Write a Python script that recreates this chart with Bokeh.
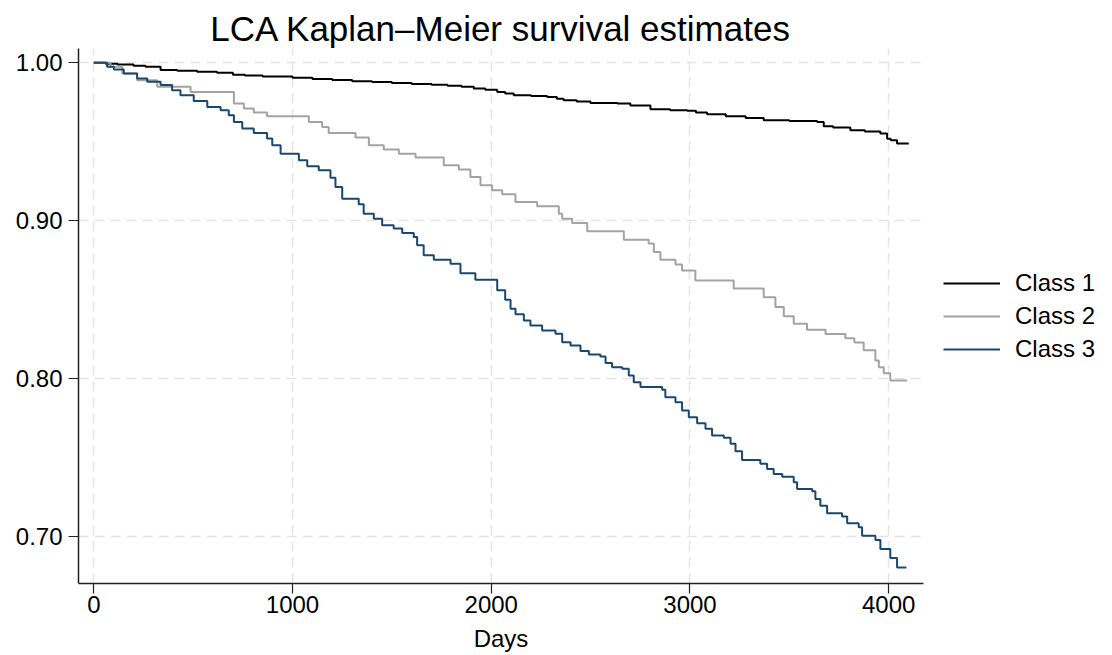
from bokeh.plotting import figure
from bokeh.models import FixedTicker, PrintfTickFormatter, Legend, LegendItem, Range1d
from bokeh.embed import file_html
from bokeh.resources import INLINE

# ---- data ----
class1_days = [0, 60, 120, 200, 260, 336, 420, 520, 620, 700, 760, 850, 1000, 1100, 1200,
               1300, 1400, 1500, 1600, 1700, 1780, 1850, 1912, 1970, 2030, 2070, 2113, 2200,
               2281, 2330, 2364, 2430, 2499, 2634, 2700, 2801, 2900, 2986, 3030, 3086, 3180,
               3280, 3371, 3500, 3640, 3673, 3720, 3807, 3880, 3958, 3992, 4010, 4042, 4101]
class1_surv = [1.000, 0.9994, 0.9990, 0.9982, 0.9975, 0.9955, 0.9950, 0.9944, 0.9938, 0.9925,
               0.9920, 0.9914, 0.9906, 0.9898, 0.9892, 0.9884, 0.9878, 0.9872, 0.9866, 0.9862,
               0.9855, 0.9848, 0.9838, 0.9830, 0.9816, 0.9806, 0.9795, 0.9790, 0.9784, 0.9772,
               0.9763, 0.9755, 0.9746, 0.9742, 0.9730, 0.9706, 0.9700, 0.9696, 0.9685, 0.9675,
               0.9662, 0.9650, 0.9637, 0.9632, 0.9626, 0.9599, 0.9590, 0.9573, 0.9565, 0.9552,
               0.9520, 0.9510, 0.9489, 0.9489]

class2_days = [0, 84, 143, 218, 319, 487, 705, 755, 805, 872, 1082, 1149, 1182, 1317, 1384,
               1459, 1535, 1619, 1761, 1837, 1895, 1946, 2004, 2055, 2122, 2231, 2340, 2357,
               2407, 2483, 2667, 2792, 2818, 2851, 2927, 2960, 3027, 3220, 3371, 3430, 3472,
               3522, 3589, 3682, 3782, 3827, 3874, 3933, 3950, 3975, 4008, 4093]
class2_surv = [1.000, 0.9975, 0.9933, 0.9890, 0.9848, 0.9816, 0.9742, 0.9711, 0.9685, 0.9662,
               0.9626, 0.9594, 0.9556, 0.9527, 0.9478, 0.9451, 0.9425, 0.9400, 0.9351, 0.9324,
               0.9277, 0.9224, 0.9193, 0.9167, 0.9119, 0.9091, 0.9045, 0.9013, 0.8985, 0.8933,
               0.8880, 0.8855, 0.8802, 0.8753, 0.8722, 0.8685, 0.8622, 0.8570, 0.8516, 0.8453,
               0.8395, 0.8347, 0.8309, 0.8282, 0.8256, 0.8228, 0.8180, 0.8115, 0.8072, 0.8034,
               0.7988, 0.7988]

class3_days = [0, 67, 101, 151, 218, 269, 336, 394, 436, 503, 571, 638, 679, 705, 747, 805,
               872, 898, 940, 1032, 1074, 1132, 1191, 1216, 1250, 1333, 1358, 1409, 1451, 1509,
               1552, 1610, 1627, 1660, 1711, 1795, 1845, 1920, 2030, 2070, 2097, 2122, 2164,
               2197, 2256, 2323, 2357, 2399, 2449, 2491, 2549, 2575, 2608, 2659, 2692, 2717,
               2751, 2860, 2876, 2927, 2960, 2994, 3036, 3078, 3111, 3170, 3204, 3229, 3262,
               3354, 3388, 3421, 3464, 3522, 3539, 3615, 3631, 3656, 3690, 3765, 3791, 3849,
               3866, 3933, 3958, 4008, 4042, 4089]
class3_surv = [1.000, 0.9975, 0.9958, 0.9933, 0.9901, 0.9880, 0.9859, 0.9827, 0.9795, 0.9759,
               0.9721, 0.9700, 0.9668, 0.9626, 0.9584, 0.9556, 0.9521, 0.9478, 0.9425, 0.9383,
               0.9345, 0.9320, 0.9273, 0.9214, 0.9140, 0.9104, 0.9045, 0.9013, 0.8971, 0.8950,
               0.8922, 0.8897, 0.8844, 0.8781, 0.8753, 0.8728, 0.8668, 0.8626, 0.8559, 0.8500,
               0.8443, 0.8407, 0.8368, 0.8337, 0.8305, 0.8284, 0.8230, 0.8210, 0.8174, 0.8153,
               0.8140, 0.8098, 0.8072, 0.8062, 0.8020, 0.7977, 0.7946, 0.7929, 0.7882, 0.7850,
               0.7798, 0.7755, 0.7717, 0.7682, 0.7639, 0.7625, 0.7587, 0.7540, 0.7485, 0.7460,
               0.7428, 0.7396, 0.7379, 0.7343, 0.7301, 0.7286, 0.7238, 0.7195, 0.7147, 0.7126,
               0.7083, 0.7058, 0.7005, 0.6978, 0.6921, 0.6864, 0.6804, 0.6804]

class_labels = ["Class 1", "Class 2", "Class 3"]
x_ticks = [0, 1000, 2000, 3000, 4000]
y_ticks = [0.70, 0.80, 0.90, 1.00]

FONT = "Liberation Sans"

p = figure(frame_width=845, frame_height=535, output_backend="svg", toolbar_location=None,
           x_range=Range1d(-77, 4175), y_range=Range1d(0.6702, 1.0091),
           min_border_left=78, min_border_right=0, min_border_top=48, min_border_bottom=72,
           background_fill_color="white", border_fill_color="white")

p.title.text = "LCA Kaplan\u2013Meier survival estimates"
p.title.align = "center"
p.title.text_font = FONT
p.title.text_font_size = "35px"
p.title.text_font_style = "normal"
p.title.text_color = "black"
p.title.standoff = 2
p.outline_line_color = None

r1 = p.step(class1_days, class1_surv, mode="after", line_color="#000000", line_width=2)
r2 = p.step(class2_days, class2_surv, mode="after", line_color="#a3a3a3", line_width=2)
r3 = p.step(class3_days, class3_surv, mode="after", line_color="#1a476f", line_width=2)

for ax in (p.xaxis[0], p.yaxis[0]):
    ax.axis_line_color = "#222222"
    ax.axis_line_width = 1.5
    ax.major_tick_line_color = "#222222"
    ax.major_tick_line_width = 1.2
    ax.major_tick_out = 10
    ax.major_tick_in = 0
    ax.minor_tick_line_color = None
    ax.major_label_text_font = FONT
    ax.major_label_text_font_size = "24px"
    ax.major_label_text_color = "black"

p.xaxis.ticker = FixedTicker(ticks=x_ticks)
p.yaxis.ticker = FixedTicker(ticks=y_ticks)
p.yaxis.formatter = PrintfTickFormatter(format="%.2f")
p.yaxis.major_label_standoff = 6
p.xaxis.major_label_standoff = 2
p.xaxis.axis_label = "Days"
p.xaxis.axis_label_text_font = FONT
p.xaxis.axis_label_text_font_size = "24px"
p.xaxis.axis_label_text_font_style = "normal"
p.xaxis.axis_label_text_color = "black"
p.xaxis.axis_label_standoff = 9

for g in (p.xgrid[0], p.ygrid[0]):
    g.grid_line_color = "#e4e4e4"
    g.grid_line_width = 1.5
    g.grid_line_dash = "10 6"

legend = Legend(items=[LegendItem(label=class_labels[0], renderers=[r1]),
                       LegendItem(label=class_labels[1], renderers=[r2]),
                       LegendItem(label=class_labels[2], renderers=[r3])],
                location="center_left")
legend.padding = 0
legend.margin = 20
legend.spacing = 0
legend.glyph_width = 57
legend.glyph_height = 33
legend.label_height = 33
legend.label_standoff = 15
legend.border_line_color = None
legend.background_fill_alpha = 0
legend.label_text_font = FONT
legend.label_text_font_size = "24px"
legend.label_text_color = "black"
p.add_layout(legend, "right")

open("out.html", "w").write(file_html(p, INLINE))
